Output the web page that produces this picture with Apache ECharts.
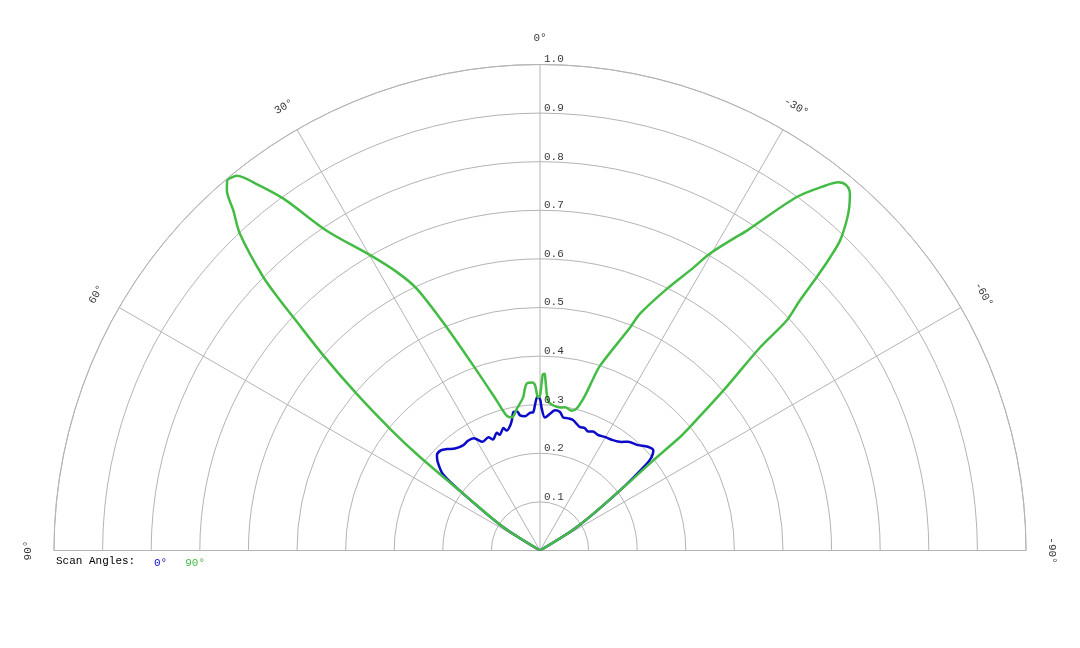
<!DOCTYPE html>
<html>
<head>
<meta charset="utf-8">
<script src="https://cdn.jsdelivr.net/npm/echarts@6/dist/echarts.min.js"></script>
<style>
  html, body { margin: 0; padding: 0; background: #fff; }
  #chart { width: 1080px; height: 648px; }
</style>
</head>
<body>
<div id="chart"></div>
<script>
// [radius, angle in degrees], angle positive to the left of 0°
const scan0 = [
  [0, -60], [0.089, -57.6], [0.206, -53.1], [0.283, -50.9], [0.299, -50.1],
  [0.311, -48.6], [0.308, -46.1], [0.296, -42.9], [0.288, -39.0], [0.279, -36.8],
  [0.272, -33.4], [0.269, -29.6], [0.266, -26.7], [0.268, -24.0], [0.264, -22.0],
  [0.268, -20.1], [0.267, -17.8], [0.272, -15.9], [0.277, -14.2], [0.278, -12.0],
  [0.278, -9.9], [0.288, -8.2], [0.290, -6.1], [0.282, -4.2], [0.274, -2.1],
  [0.292, -0.7], [0.312, 0], [0.316, 1.0], [0.299, 2.0], [0.285, 2.8],
  [0.284, 4.2], [0.278, 6.4], [0.281, 8.4], [0.290, 9.3], [0.290, 10.9],
  [0.275, 12.1], [0.265, 13.3], [0.256, 15.5], [0.263, 16.6], [0.252, 19.2],
  [0.258, 20.1], [0.248, 23.0], [0.256, 24.5], [0.253, 27.8], [0.268, 30.5],
  [0.270, 33.3], [0.268, 36.0], [0.273, 39.8], [0.283, 42.5], [0.290, 44.7],
  [0.289, 47.2], [0.280, 48.9], [0.253, 51.9], [0.196, 53.5], [0.089, 57.6],
  [0, 60]
];

const scan90 = [
  [0, -60], [0.089, -57.6], [0.206, -53.1], [0.298, -51.5], [0.371, -51.0],
  [0.390, -50.7], [0.501, -48.9], [0.616, -47.3], [0.694, -47.0], [0.742, -46.1],
  [0.800, -45.35], [0.849, -44.7], [0.888, -44.06], [0.927, -42.9], [0.951, -42.0],
  [0.972, -41.0], [0.981, -40.0], [0.975, -39.0], [0.955, -38.1], [0.899, -36.0],
  [0.784, -32.9], [0.755, -31.8], [0.704, -29.8], [0.660, -28.4], [0.599, -25.9],
  [0.529, -22.9], [0.495, -22.0], [0.400, -18.0], [0.370, -17.2], [0.332, -16.2],
  [0.302, -14.5], [0.295, -12.8], [0.299, -9.9], [0.297, -8.0], [0.300, -5.1],
  [0.309, -3.05], [0.350, -1.85], [0.364, -1.5], [0.362, -0.9], [0.319, 0],
  [0.315, 0.75], [0.340, 1.7], [0.346, 2.7], [0.345, 4.45], [0.335, 5.3],
  [0.317, 6.3], [0.296, 9.2], [0.280, 11.9], [0.286, 13.9], [0.321, 16.1],
  [0.393, 19.4], [0.498, 22.7], [0.595, 25.2], [0.644, 27.2], [0.701, 29.9],
  [0.791, 33.7], [0.896, 36.1], [0.960, 37.9], [0.981, 38.5], [0.992, 39.0],
  [0.996, 39.6], [0.997, 40.2], [0.982, 41.0], [0.942, 42.05], [0.898, 43.45],
  [0.800, 45.35], [0.742, 46.1], [0.699, 46.6], [0.600, 48.0], [0.496, 49.5],
  [0.393, 51.0], [0.313, 52.1], [0.196, 53.5], [0.089, 57.6], [0, 60]
];

const angleTicks = [-90, -60, -30, 0, 30, 60, 90];
const radiusTicks = [0.1, 0.2, 0.3, 0.4, 0.5, 0.6, 0.7, 0.8, 0.9, 1.0];
const seriesNames = ['0°', '90°'];
const seriesColors = ['#0a0ac8', '#44bb44'];

const mono = 'Liberation Mono, Courier New, monospace';
const gridColor = '#b4b4b4';

const chart = echarts.init(document.getElementById('chart'));

const option = {
  animation: false,
  backgroundColor: '#ffffff',
  title: {
    text: 'Scan Angles:',
    left: 56,
    top: 556,
    padding: 0,
    textStyle: { fontFamily: mono, fontSize: 11, fontWeight: 'normal', color: '#000' }
  },
  legend: {
    left: 149,
    top: 556,
    padding: 0,
    icon: 'none',
    itemWidth: 0,
    itemGap: 13,
    selectedMode: false,
    data: seriesNames.map((n, i) => ({
      name: n,
      textStyle: { color: seriesColors[i], fontFamily: mono, fontSize: 11 }
    }))
  },
  polar: {
    center: [540, 550.5],
    radius: 486
  },
  angleAxis: {
    type: 'value',
    min: -90,
    max: 90,
    interval: 30,
    startAngle: 0,
    endAngle: 180,
    clockwise: false,
    axisLine: { show: true, lineStyle: { color: gridColor, width: 1 } },
    axisTick: { show: false },
    axisLabel: { show: false },
    splitLine: { show: true, lineStyle: { color: gridColor, width: 1 } }
  },
  radiusAxis: {
    type: 'value',
    min: 0,
    max: 1,
    interval: 0.1,
    axisLine: { show: false },
    axisTick: { show: false },
    axisLabel: { show: false },
    splitLine: { show: true, lineStyle: { color: gridColor, width: 1 } }
  },
  series: [
    {
      name: seriesNames[0],
      type: 'line',
      coordinateSystem: 'polar',
      data: scan0,
      symbol: 'none',
      smooth: 0.3,
      clip: false,
      lineStyle: { color: seriesColors[0], width: 2.5 },
      itemStyle: { color: seriesColors[0] },
      z: 3
    },
    {
      name: seriesNames[1],
      type: 'line',
      coordinateSystem: 'polar',
      data: scan90,
      symbol: 'none',
      smooth: 0.3,
      clip: false,
      lineStyle: { color: seriesColors[1], width: 2.5 },
      itemStyle: { color: seriesColors[1] },
      z: 4
    },
    {
      // radius tick labels along the 0° spoke
      type: 'scatter',
      coordinateSystem: 'polar',
      symbolSize: 0,
      silent: true,
      clip: false,
      data: radiusTicks.map(r => [r, 0]),
      label: {
        show: true,
        position: 'right',
        distance: 4,
        offset: [0, -5],
        formatter: p => p.value[0].toFixed(1),
        fontFamily: mono,
        fontSize: 11,
        color: '#000'
      },
      z: 5
    },
    {
      // angle labels just outside the outer ring, turned along it
      type: 'scatter',
      coordinateSystem: 'polar',
      symbolSize: 0,
      silent: true,
      clip: false,
      data: angleTicks.map(a => ({ value: [1.054, a], label: { rotate: a } })),
      label: {
        show: true,
        position: 'inside',
        formatter: p => p.value[1] + '°',
        fontFamily: mono,
        fontSize: 11,
        color: '#000'
      },
      z: 5
    }
  ]
};

chart.setOption(option);
</script>
</body>
</html>
